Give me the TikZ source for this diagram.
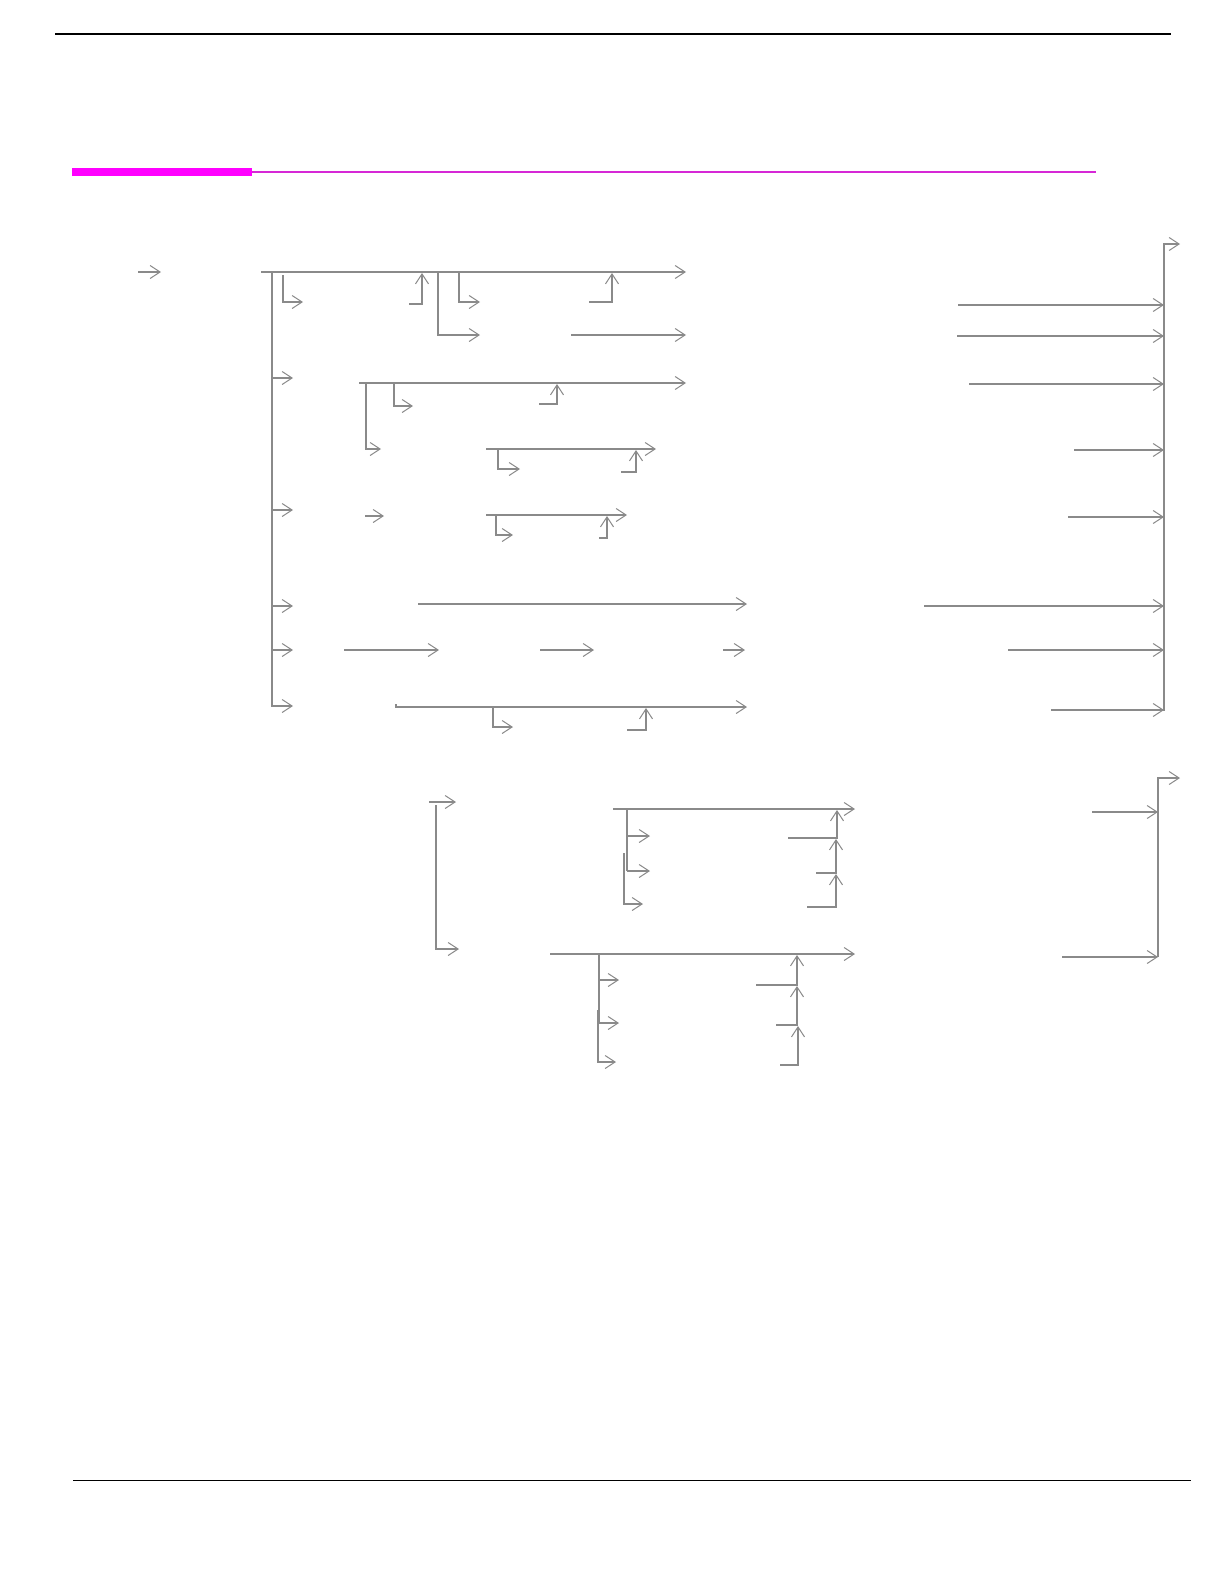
\documentclass[tikz,border=0pt]{standalone}
\usetikzlibrary{arrows.meta}
\definecolor{railgray}{RGB}{138,138,138}
\definecolor{barmag}{RGB}{255,0,255}
\definecolor{linemag}{RGB}{214,40,214}
\tikzset{
  rail/.style={draw=railgray, line width=1.05pt},
  arr/.style={rail, -{Straight Barb[length=10pt,width=13pt,line width=1pt]}},
  rule/.style={draw=black, line width=1.4pt}
}
\begin{document}
\begin{tikzpicture}[x=1pt,y=-1pt]
\useasboundingbox (0,0) rectangle (1224,1582);
\fill[white] (0,0) rectangle (1224,1582);
% page rules
\draw[rule] (55,34) -- (1171,34);
\draw[rule] (73,1480.5) -- (1191,1480.5);
\fill[barmag] (72,167.7) rectangle (252,175.7);
\draw[linemag, line width=2.4pt] (252,171.7) -- (1096,171.7);

% ---------- upper diagram ----------
\draw[arr] (138,272) -- (161,272);
\draw[arr] (261,272) -- (686,272);
\draw[arr] (272,272) |- (293,706);
\draw[arr] (272,378) -- (293,378);
\draw[arr] (272,510) -- (293,510);
\draw[arr] (272,606) -- (293,606);
\draw[arr] (272,650) -- (293,650);
% row 1
\draw[arr] (283,275) |- (303,302);
\draw[arr] (409,304) -| (422,273);
\draw[arr] (438,272) |- (480,335);
\draw[arr] (459,272) |- (480,302);
\draw[arr] (589,302) -| (612,273);
\draw[arr] (571,335) -- (686,335);
% row 2
\draw[arr] (359,383) -- (686,383);
\draw[arr] (366,383) |- (381,449);
\draw[arr] (394,383) |- (413,406);
\draw[arr] (539,404) -| (557,384);
\draw[arr] (486,449) -- (656,449);
\draw[arr] (498,449) |- (520,469);
\draw[arr] (621,472) -| (636,450);
% row 3
\draw[arr] (365,516) -- (384,516);
\draw[arr] (486,515) -- (627,515);
\draw[arr] (496,515) |- (513,535);
\draw[arr] (599,538) -| (607,516);
% row 4
\draw[arr] (418,604) -- (747,604);
% row 5
\draw[arr] (344,650) -- (439,650);
\draw[arr] (540,650) -- (594,650);
\draw[arr] (723,650) -- (745,650);
% row 6
\draw[arr] (396,704) -- (396,707) -- (747,707);
\draw[arr] (493,707) |- (513,727);
\draw[arr] (627,730) -| (646,708);
% right collector
\draw[arr] (1164,711) -- (1164,244) -- (1180,244);
\draw[arr] (958,305) -- (1164,305);
\draw[arr] (957,336) -- (1164,336);
\draw[arr] (969,384) -- (1164,384);
\draw[arr] (1074,450) -- (1164,450);
\draw[arr] (1068,517) -- (1164,517);
\draw[arr] (924,606) -- (1164,606);
\draw[arr] (1008,650) -- (1164,650);
\draw[arr] (1051,710) -- (1164,710);

% ---------- lower diagram ----------
\draw[arr] (429,802) -- (456,802);
\draw[arr] (436,805) |- (459,949);
% group A
\draw[arr] (613,809) -- (855,809);
\draw[rail] (627,809) -- (627,871);
\draw[arr] (627,836) -- (650,836);
\draw[arr] (627,871) -- (650,871);
\draw[arr] (624,853) |- (643,904);
\draw[arr] (788,838) -| (837,810);
\draw[arr] (816,873) -| (836,839);
\draw[arr] (807,907) -| (836,874);
% group B
\draw[arr] (550,954) -- (855,954);
\draw[rail] (599,954) -- (599,1023);
\draw[arr] (599,980) -- (619,980);
\draw[arr] (599,1023) -- (619,1023);
\draw[arr] (598,1010) |- (616,1062);
\draw[arr] (756,985) -| (797,955);
\draw[arr] (776,1025) -| (797,986);
\draw[arr] (780,1065) -| (798,1026);
% right collector
\draw[arr] (1158,957) -- (1158,778) -- (1180,778);
\draw[arr] (1092,812) -- (1158,812);
\draw[arr] (1062,957) -- (1158,957);
\end{tikzpicture}
\end{document}
